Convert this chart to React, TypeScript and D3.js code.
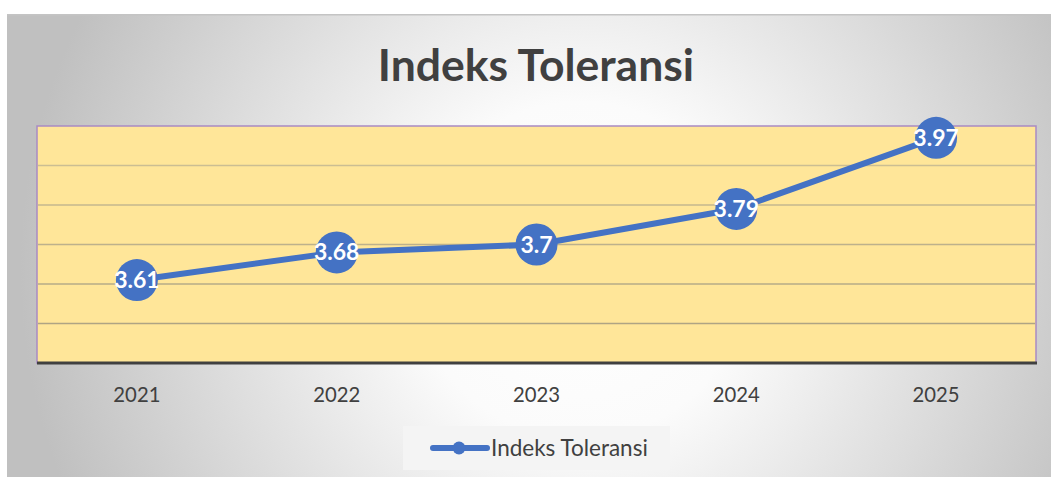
import React from "react";
import * as d3 from "d3";

const years = ["2021", "2022", "2023", "2024", "2025"];
const values = [3.61, 3.68, 3.7, 3.79, 3.97];
const yTicks = [3.4, 3.5, 3.6, 3.7, 3.8, 3.9, 4.0];
const title = "Indeks Toleransi";
const seriesName = "Indeks Toleransi";

const W = 1051;
const H = 477;
const plot = { left: 37, right: 1036, top: 126, bottom: 363 };

export default function App() {
  const x = d3.scaleBand<string>().domain(years).range([plot.left, plot.right]);
  const y = d3.scaleLinear().domain([3.4, 4.0]).range([plot.bottom, plot.top]);
  const cx = (d: string) => (x(d) as number) + x.bandwidth() / 2;
  const line = d3
    .line<number>()
    .x((_, i) => cx(years[i]))
    .y((v) => y(v));
  const gridColor = d3.scaleLinear<string>().domain([plot.top, plot.bottom]).range(["#d2c497", "#a89e80"]);
  const font = "Lato, 'Open Sans', sans-serif";
  const blue = "#4472C4";
  return (
    <svg
      width={W}
      height={H}
      style={{ position: "absolute", left: 0, top: 0 }}
    >
      <defs>
        <radialGradient id="bg" gradientUnits="userSpaceOnUse" cx={580} cy={270} r={560}>
          <stop offset="0%" stopColor="#ffffff" />
          <stop offset="30%" stopColor="#fbfbfb" />
          <stop offset="100%" stopColor="#c0c0c0" />
        </radialGradient>
      </defs>
      <rect x={0} y={0} width={W} height={H} fill="#ffffff" />
      <rect x={7} y={14} width={W - 7} height={H - 14} fill="url(#bg)" />
      <rect x={7} y={14} width={W - 7} height={1.5} fill="#c4c4c4" />
      <text
        x={536}
        y={81}
        textAnchor="middle"
        fontFamily={font}
        fontWeight={700}
        fontSize={44.5}
        fill="#404040"
      >
        {title}
      </text>
      <rect
        x={plot.left}
        y={plot.top}
        width={plot.right - plot.left}
        height={plot.bottom - plot.top}
        fill="#FFE699"
        stroke="#a98bc4"
        strokeWidth={1.5}
      />
      {yTicks.slice(1, -1).map((t) => (
        <line
          key={t}
          x1={plot.left + 1}
          x2={plot.right - 1}
          y1={y(t)}
          y2={y(t)}
          stroke={gridColor(y(t))}
          strokeWidth={1.3}
        />
      ))}
      <line
        x1={plot.left}
        x2={plot.right + 1}
        y1={plot.bottom}
        y2={plot.bottom}
        stroke="#404040"
        strokeWidth={3}
      />
      {years.map((yr) => (
        <text
          key={yr}
          x={cx(yr)}
          y={402}
          textAnchor="middle"
          fontFamily={font}
          fontSize={20.3}
          fill="#404040"
        >
          {yr}
        </text>
      ))}
      <path d={line(values) || ""} fill="none" stroke={blue} strokeWidth={6} strokeLinejoin="round" strokeLinecap="round" />
      {values.map((v, i) => (
        <g key={i}>
          <circle cx={cx(years[i])} cy={y(v)} r={21} fill={blue} />
          <text
            x={cx(years[i])}
            y={y(v) + 8}
            textAnchor="middle"
            fontFamily={font}
            fontWeight={700}
            fontSize={23}
            fill="#ffffff"
          >
            {String(v)}
          </text>
        </g>
      ))}
      <rect x={403} y={426} width={267} height={44} fill="#f4f4f4" />
      <line x1={433} x2={487} y1={448} y2={448} stroke={blue} strokeWidth={6} strokeLinecap="round" />
      <circle cx={459} cy={448} r={6.5} fill={blue} />
      <text x={491} y={456} fontFamily={font} fontSize={22.5} fill="#404040">
        {seriesName}
      </text>
    </svg>
  );
}
